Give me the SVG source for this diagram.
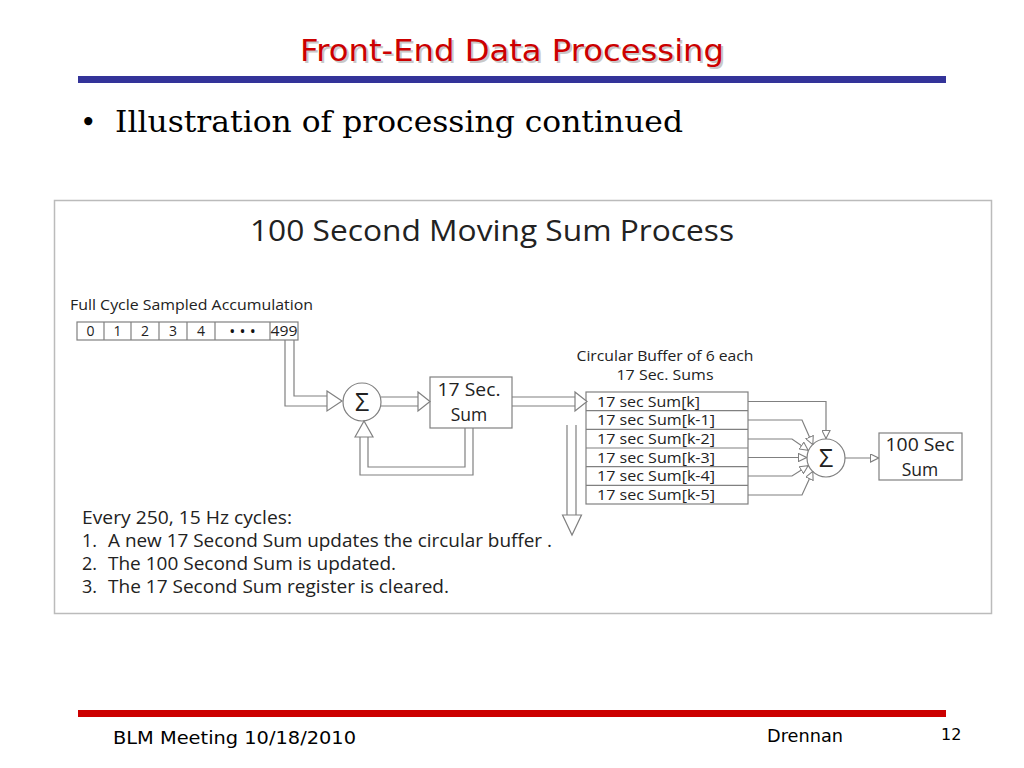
<svg xmlns="http://www.w3.org/2000/svg" width="1024" height="768" viewBox="0 0 1024 768">
<style>
.cal{font-family:"Open Sans","Liberation Sans",sans-serif;fill:#222}
.ln{fill:none;stroke:#808080;stroke-width:1.2}
.hd{fill:#fff;stroke:#808080;stroke-width:1.2}
.box{fill:#fff;stroke:#808080;stroke-width:1.2}
.comic{font-family:"DejaVu Sans","Liberation Sans",sans-serif}
</style>
<defs>
<marker id="tri" viewBox="0 0 10 10" refX="10" refY="5" markerWidth="9" markerHeight="9" markerUnits="userSpaceOnUse" orient="auto">
<path d="M0.5,0.5 L9.5,5 L0.5,9.5 Z" fill="#fff" stroke="#808080" stroke-width="1.2"/>
</marker>
</defs>
<rect width="1024" height="768" fill="#fff"/>
<!-- header -->
<g id="title">
<text x="514" y="63" text-anchor="middle" class="comic" font-size="30" fill="#c8c8c8" textLength="424" lengthAdjust="spacingAndGlyphs">Front-End Data Processing</text>
<text x="512" y="61" text-anchor="middle" class="comic" font-size="30" fill="#cc0000" textLength="424" lengthAdjust="spacingAndGlyphs">Front-End Data Processing</text>
</g>
<rect x="78" y="76" width="868" height="7" fill="#333399"/>
<g id="bullet">
<text x="80" y="132" font-family="DejaVu Serif,serif" font-size="28" fill="#000">•</text>
<text x="115" y="132" font-family="DejaVu Serif,serif" font-size="29" fill="#000" textLength="568" lengthAdjust="spacingAndGlyphs">Illustration of processing continued</text>
</g>
<!-- frame -->
<rect x="54.5" y="200.5" width="937" height="413" fill="#fff" stroke="#bbb" stroke-width="1.5"/>
<text x="250" y="241" class="cal" font-size="30" textLength="484" lengthAdjust="spacingAndGlyphs">100 Second Moving Sum Process</text>

<g id="accumulation">
<text x="70" y="310" class="cal" font-size="15" textLength="243" lengthAdjust="spacingAndGlyphs">Full Cycle Sampled Accumulation</text>
<rect x="77" y="322" width="221" height="18" class="box"/>
<g class="ln"><path d="M104,322V340M131,322V340M159,322V340M187,322V340M215,322V340M270,322V340"/></g>
<g class="cal" font-size="14" text-anchor="middle" fill="#666">
<text x="90.5" y="336">0</text><text x="117.5" y="336">1</text><text x="145" y="336">2</text><text x="173" y="336">3</text><text x="201" y="336">4</text><text x="242.5" y="337" fill="#111" font-size="16">•  •  •</text><text x="284" y="336" textLength="27" lengthAdjust="spacingAndGlyphs">499</text>
</g>
</g>

<g id="sum1">
<circle cx="362" cy="402" r="19" class="box"/>
<text x="362" y="411" text-anchor="middle" class="cal" font-size="25" fill="#666">Σ</text>
</g>

<g id="sec17">
<rect x="430" y="377" width="82" height="51" class="box"/>
<text x="469" y="396" text-anchor="middle" class="cal" font-size="17.5" textLength="63" lengthAdjust="spacingAndGlyphs">17 Sec.</text>
<text x="469" y="421" text-anchor="middle" class="cal" font-size="17.5">Sum</text>
</g>

<g id="buffer-title">
<text x="665" y="361" text-anchor="middle" class="cal" font-size="15" textLength="177" lengthAdjust="spacingAndGlyphs">Circular Buffer of 6 each</text>
<text x="665" y="380" text-anchor="middle" class="cal" font-size="15" textLength="97" lengthAdjust="spacingAndGlyphs">17 Sec. Sums</text>
</g>
<g id="buffer">
<rect x="586" y="392" width="162" height="112" class="box"/>
<path d="M586,410.7H748M586,429.3H748M586,448H748M586,466.7H748M586,485.3H748" class="ln"/>
<g class="cal" font-size="14.5">
<text x="597" y="406.5" textLength="103" lengthAdjust="spacingAndGlyphs">17 sec Sum[k]</text>
<text x="597" y="425.2" textLength="118" lengthAdjust="spacingAndGlyphs">17 sec Sum[k-1]</text>
<text x="597" y="443.8" textLength="118" lengthAdjust="spacingAndGlyphs">17 sec Sum[k-2]</text>
<text x="597" y="462.5" textLength="118" lengthAdjust="spacingAndGlyphs">17 sec Sum[k-3]</text>
<text x="597" y="481.2" textLength="118" lengthAdjust="spacingAndGlyphs">17 sec Sum[k-4]</text>
<text x="597" y="499.8" textLength="118" lengthAdjust="spacingAndGlyphs">17 sec Sum[k-5]</text>
</g>
</g>

<g id="sum2">
<circle cx="826" cy="458" r="19" class="box"/>
<text x="826" y="467" text-anchor="middle" class="cal" font-size="25" fill="#666">Σ</text>
</g>

<g id="sec100">
<rect x="879" y="433" width="83" height="47" class="box"/>
<text x="920" y="451" text-anchor="middle" class="cal" font-size="17.5" textLength="69" lengthAdjust="spacingAndGlyphs">100 Sec</text>
<text x="920" y="476" text-anchor="middle" class="cal" font-size="17.5">Sum</text>
</g>

<g id="connectors">
<path d="M285,340V406H327M294,340V396H327" class="ln"/>
<path d="M327,391L342,401L327,411Z" class="hd"/>
<path d="M381,397H418M381,406H418" class="ln"/>
<path d="M418,392L430,401.5L418,411Z" class="hd"/>
<path d="M473,428V475H360V437M465,428V467H368V437" class="ln"/>
<path d="M355,437L364,421L373,437Z" class="hd"/>
<path d="M512,397H575M512,406H575" class="ln"/>
<path d="M575,392L587,401.5L575,411Z" class="hd"/>
<path d="M567,425V515M576,425V515" class="ln"/>
<path d="M562.5,515L581.5,515L572,535Z" class="hd"/>
<path d="M748,401.5H826V439" class="ln" marker-end="url(#tri)"/>
<path d="M748,420H802L813,445" class="ln" marker-end="url(#tri)"/>
<path d="M748,439H792L808.5,450.5" class="ln" marker-end="url(#tri)"/>
<path d="M748,457.5H807" class="ln" marker-end="url(#tri)"/>
<path d="M748,476H792L808.5,465.5" class="ln" marker-end="url(#tri)"/>
<path d="M748,495H802L813,471" class="ln" marker-end="url(#tri)"/>
<path d="M845,458H879" class="ln" marker-end="url(#tri)"/>
</g>

<g id="notes" class="cal" font-size="18">
<text x="82" y="524" textLength="210" lengthAdjust="spacingAndGlyphs">Every 250, 15 Hz cycles:</text>
<text x="82" y="547">1.</text><text x="108" y="547" textLength="444" lengthAdjust="spacingAndGlyphs">A new 17 Second Sum updates the circular buffer .</text>
<text x="82" y="570">2.</text><text x="108" y="570" textLength="288" lengthAdjust="spacingAndGlyphs">The 100 Second Sum is updated.</text>
<text x="82" y="593">3.</text><text x="108" y="593" textLength="341" lengthAdjust="spacingAndGlyphs">The 17 Second Sum register is cleared.</text>
</g>

<!-- footer -->
<rect x="78" y="710" width="868" height="7" fill="#cc0000"/>
<g id="footer" class="comic" fill="#000">
<text x="113" y="744" font-size="17" textLength="243" lengthAdjust="spacingAndGlyphs">BLM Meeting  10/18/2010</text>
<text x="767" y="742" font-size="17" textLength="76" lengthAdjust="spacingAndGlyphs">Drennan</text>
<text x="941" y="740" font-size="16">12</text>
</g>
</svg>
